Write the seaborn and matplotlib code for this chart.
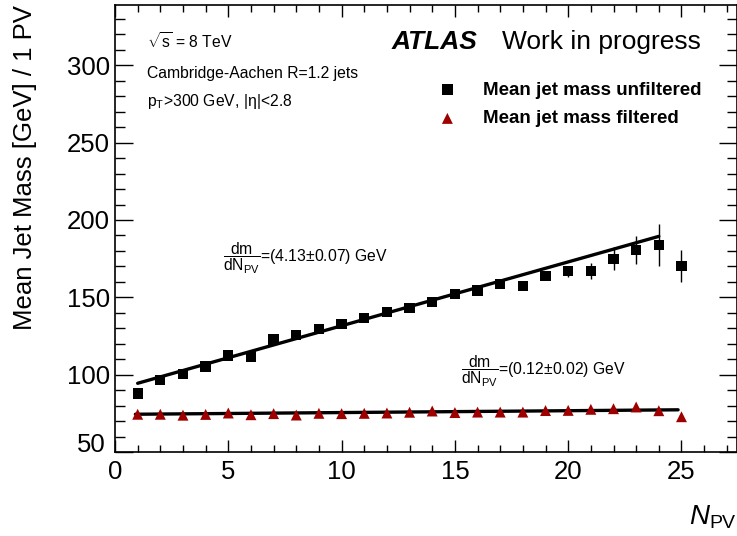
import numpy as np
import pandas as pd
import matplotlib
matplotlib.use("Agg")
import matplotlib.pyplot as plt
from matplotlib.ticker import MultipleLocator
from matplotlib.transforms import ScaledTranslation
import seaborn as sns

# ---------------- data ----------------
n_pv = [1, 2, 3, 4, 5, 6, 7, 8, 9, 10, 11, 12, 13, 14, 15, 16, 17, 18, 19, 20, 21, 22, 23, 24, 25]
mass_unfiltered = [87.8, 96.4, 100.4, 105.3, 112.3, 111.8, 122.7, 125.8, 129.6, 132.6, 136.5, 140.7,
                   143.0, 146.9, 152.3, 154.5, 158.5, 157.5, 163.6, 166.8, 167.0, 175.0, 180.4, 183.7, 170.2]
err_unfiltered = [1.0, 1.0, 1.0, 1.0, 1.0, 1.0, 1.0, 1.0, 1.0, 1.0, 1.0, 1.2, 1.2, 1.3, 1.4, 1.5,
                  1.7, 2.0, 2.6, 3.5, 5.0, 7.4, 9.0, 13.5, 10.4]
mass_filtered = [74.4, 74.4, 73.8, 74.3, 75.2, 74.1, 74.8, 73.9, 75.0, 74.8, 75.0, 75.2,
                 75.7, 76.5, 75.5, 75.8, 75.8, 75.8, 76.8, 76.9, 77.6, 78.0, 79.1, 76.7, 72.8]

# linear fits: slope, intercept, x-range
fit_unf_slope, fit_unf_icpt, fit_unf_range = 4.13, 90.3, (1.0, 24.0)
fit_fil_slope, fit_fil_icpt, fit_fil_range = 0.12, 74.3, (0.9, 24.85)

label_unf = "Mean jet mass unfiltered"
label_fil = "Mean jet mass filtered"
ylabel = "Mean Jet Mass [GeV] / 1 PV"
xlabel = r"$\mathit{N}_{\mathrm{PV}}$"
ann_unf = r"$\dfrac{\mathrm{dm}}{\mathrm{dN}_{\mathrm{PV}}}$=(4.13$\pm$0.07) GeV"
ann_fil = r"$\dfrac{\mathrm{dm}}{\mathrm{dN}_{\mathrm{PV}}}$=(0.12$\pm$0.02) GeV"
info_lines = [r"$\sqrt{\mathrm{s}}$ = 8 TeV", "Cambridge-Aachen R=1.2 jets",
              r"p$_{\mathrm{T}}$>300 GeV, |$\eta$|<2.8"]

RED = "#9E0000"

# ---------------- style ----------------
sns.set_theme(style="ticks")
plt.rcParams["font.family"] = ["Liberation Sans", "DejaVu Sans"]
plt.rcParams["mathtext.fontset"] = "custom"
plt.rcParams["mathtext.rm"] = "Liberation Sans"
plt.rcParams["mathtext.it"] = "Liberation Sans:italic"
plt.rcParams["mathtext.bf"] = "Liberation Sans:bold"
plt.rcParams["mathtext.default"] = "regular"
for key in ["text.color", "axes.labelcolor", "xtick.color", "ytick.color", "axes.edgecolor"]:
    plt.rcParams[key] = "black"

fig = plt.figure(figsize=(7.37, 5.36), dpi=100)
ax = fig.add_axes([115 / 737, 1 - 452 / 536, 622 / 737, 447 / 536])

df = pd.DataFrame({"npv": n_pv, "unf": mass_unfiltered, "err": err_unfiltered, "fil": mass_filtered})

# error bars (unfiltered)
ax.errorbar(df["npv"], df["unf"], yerr=df["err"], fmt="none", ecolor="black", elinewidth=1.0, capsize=0, zorder=2)

# fit lines
xu = np.array(fit_unf_range)
xf = np.array(fit_fil_range)
sns.lineplot(x=xu, y=fit_unf_icpt + fit_unf_slope * xu, ax=ax, color="black", lw=2.4, zorder=3)
sns.lineplot(x=xf, y=fit_fil_icpt + fit_fil_slope * xf, ax=ax, color="black", lw=2.4, zorder=3)

# markers
sns.scatterplot(data=df, x="npv", y="unf", marker="s", s=55, color="black", edgecolor="none",
                ax=ax, zorder=4, label=label_unf)
sns.scatterplot(data=df, x="npv", y="fil", marker="^", s=62, color=RED, edgecolor="none",
                ax=ax, zorder=4, label=label_fil)

ax.set_xlim(0, 27.45)
ax.set_ylim(50, 339)
ax.xaxis.set_major_locator(MultipleLocator(5))
ax.xaxis.set_minor_locator(MultipleLocator(1))
ax.yaxis.set_major_locator(MultipleLocator(50))
ax.yaxis.set_minor_locator(MultipleLocator(10))

ax.tick_params(axis="both", which="both", direction="in", top=True, right=True, colors="black")
ax.tick_params(axis="y", which="major", length=13, width=1.0, labelsize=18.5, pad=3.5)
ax.tick_params(axis="y", which="minor", length=7, width=1.0)
ax.tick_params(axis="x", which="major", length=8.6, width=1.0, labelsize=18.5, pad=5.5)
ax.tick_params(axis="x", which="minor", length=5, width=1.0)
for sp in ax.spines.values():
    sp.set_color("black")
    sp.set_linewidth(1.2)

ax.set_ylabel(ylabel, fontsize=18.5, loc="top")
ax.yaxis.set_label_coords(-0.126, 1.0)
ax.set_xlabel(xlabel, fontsize=20, loc="right")
ax.xaxis.set_label_coords(1.0, -0.116)

# legend
leg = ax.legend(loc="upper left", bbox_to_anchor=(0.5193, 0.829), frameon=False, borderpad=0,
                borderaxespad=0, handlelength=1.0, handletextpad=1.40, labelspacing=0.62,
                prop={"weight": "bold", "size": 13.5}, markerscale=1.0)

# ATLAS label
ax.text((392 - 115) / 622, (452 - 49) / 447, "ATLAS", transform=ax.transAxes, fontsize=19,
        fontweight="bold", fontstyle="italic", va="baseline", ha="left")
ax.text((502 - 115) / 622, (452 - 49) / 447, "Work in progress", transform=ax.transAxes, fontsize=19,
        va="baseline", ha="left")

# info lines
for i, line in enumerate(info_lines):
    ax.text((147 - 115) / 622, (452 - (49.3 + 28.3 * i)) / 447, line, transform=ax.transAxes,
            fontsize=11.3, va="baseline", ha="left")

# fit annotations
ax.text(4.76, 175.5, ann_unf, fontsize=11.3, va="center", ha="left")
ax.text(15.26, 102.0, ann_fil, fontsize=11.3, va="center", ha="left")

# lift the bottom y tick label (50) slightly, as in the reference
fig.canvas.draw()
for tick in ax.yaxis.get_major_ticks():
    if abs(tick.get_loc() - 50) < 1e-6:
        tick.label1.set_transform(tick.label1.get_transform() +
                                  ScaledTranslation(-4 / 100, 9 / 100, fig.dpi_scale_trans))

fig.savefig("out.png", dpi=100)
